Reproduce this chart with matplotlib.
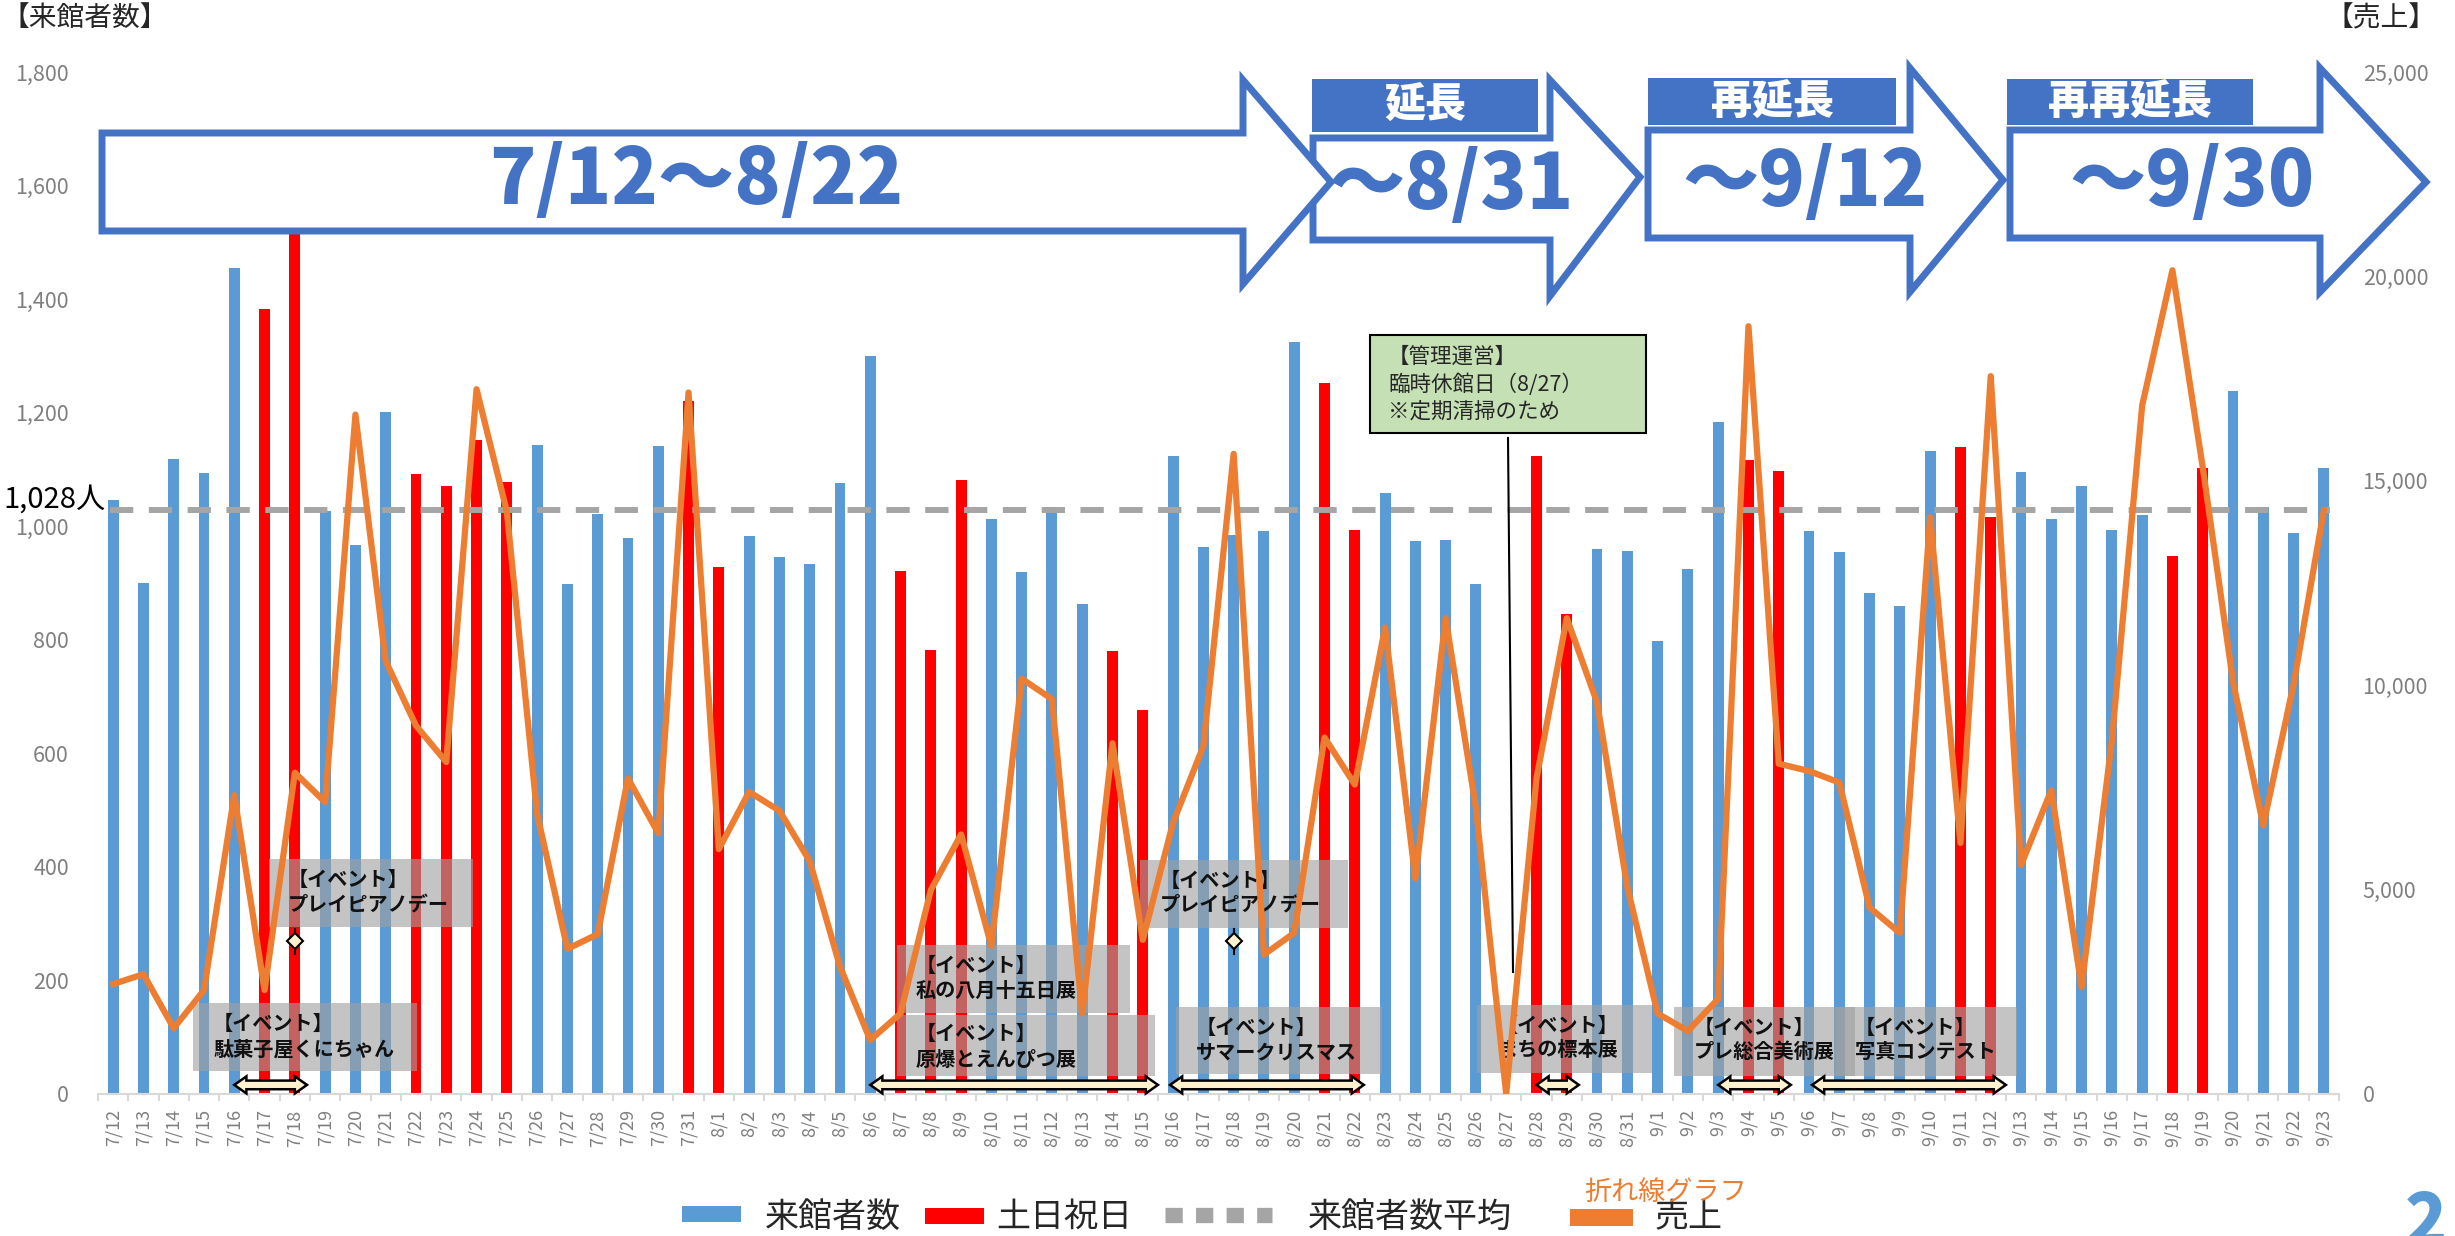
import numpy as np
import matplotlib
matplotlib.use('Agg')
import matplotlib.pyplot as plt
from matplotlib.patches import Polygon, Rectangle
from matplotlib.lines import Line2D

plt.rcParams['font.family'] = ['Noto Sans CJK JP', 'DejaVu Sans']

# ---- data ----
dates = ([f'7/{d}' for d in range(12, 32)] + [f'8/{d}' for d in range(1, 32)]
         + [f'9/{d}' for d in range(1, 24)])

visitors = [1046, 900, 1119, 1094, 1454, 1383, 1560, 1026, 967, 1202,
            1092, 1070, 1152, 1078, 1143, 899, 1022, 980, 1141, 1221,
            928, 982, 946, 933, 1076, 1300, 922, 782, 1081, 1012,
            920, 1033, 863, 780, 677, 1123, 964, 985, 991, 1324,
            1253, 993, 1058, 974, 976, 898, 0, 1123, 845, 960,
            957, 798, 924, 1183, 1116, 1097, 992, 955, 882, 860,
            1132, 1140, 1016, 1096, 1012, 1070, 993, 1020, 948, 1103,
            1239, 1034, 988, 1103]

sales = [2690, 2930, 1610, 2540, 7310, 2540, 7860, 7140, 16620, 10590,
         9010, 8120, 17240, 14250, 6850, 3550, 3910, 7720, 6380, 17160,
         5990, 7390, 6930, 5700, 3120, 1320, 1970, 4990, 6350, 3620,
         10160, 9660, 1970, 8580, 3770, 6640, 8510, 15660, 3410, 3940,
         8720, 7570, 11410, 5270, 11640, 7000, 0, 7720, 11640, 9580,
         5060, 1970, 1540, 2330, 18780, 8080, 7900, 7620, 4560, 3940,
         14110, 6140, 17560, 5600, 7430, 2620, 8650, 16840, 20150, 15330,
         10090, 6570, 10020, 14280]

holidays = ['7/17', '7/18', '7/22', '7/23', '7/24', '7/25', '7/31', '8/1',
            '8/7', '8/8', '8/9', '8/14', '8/15', '8/21', '8/22', '8/28',
            '8/29', '9/4', '9/5', '9/11', '9/12', '9/18', '9/19']

avg_visitors = 1028

# double arrows under the event boxes (start / end in day index)
event_spans = [(4.0, 6.4), (25.0, 34.5), (34.9, 41.3), (47.0, 48.4), (53.0, 55.4), (56.1, 62.5)]
piano_days = ['7/18', '8/18']
piano_level = 269

W, H = 2455, 1236
DPI = 100
BLUE = '#5B9BD5'
RED = '#FF0000'
ORANGE = '#ED7D31'
GRAY = '#A5A5A5'
ABLUE = '#4472C4'
CREAM = '#FFF2CC'
TICKC = '#7F7F7F'


def fx(px):
    return px / W


def fy(py):
    return 1 - py / H


fig = plt.figure(figsize=(W / DPI, H / DPI), dpi=DPI)
ax = fig.add_axes([fx(98), fy(1094), (2339 - 98) / W, (1094 - 72) / H])
ax2 = ax.twinx()

idx = np.arange(len(dates))
vis = np.array(visitors)
hol = np.array([d in holidays for d in dates])

ax.bar(idx[~hol], vis[~hol], width=0.36, color=BLUE, zorder=2)
ax.bar(idx[hol], vis[hol], width=0.36, color=RED, zorder=2)
ax.plot([-0.1, 73.2], [avg_visitors, avg_visitors], color=GRAY, lw=4.3,
        dashes=(3.9, 2.6), zorder=3)

ax2.plot(idx, sales, color=ORANGE, lw=4.5, zorder=3)

ax.set_xlim(-0.5, len(dates) - 0.5)
ax.set_ylim(0, 1800)
ax2.set_ylim(0, 25000)
ax.set_yticks(np.arange(0, 1801, 200))
ax.set_yticklabels([f'{v:,}' for v in range(0, 1801, 200)])
ax2.set_yticks(np.arange(0, 25001, 5000))
ax2.set_yticklabels([f'{v:,}' for v in range(0, 25001, 5000)])
ax.set_xticks(idx)
ax.set_xticklabels(dates)
ax.set_xticks(np.arange(-0.5, len(dates), 1), minor=True)
ax.tick_params(axis='x', which='major', length=0, pad=11, labelsize=13,
               labelcolor=TICKC, rotation=90)
ax.tick_params(axis='x', which='minor', length=5, width=1.5, color='#D9D9D9')
ax.tick_params(axis='y', length=0, pad=21, labelsize=15.5, labelcolor=TICKC)
ax2.tick_params(axis='y', length=0, pad=17, labelsize=15.5, labelcolor=TICKC)
for a in (ax, ax2):
    for s in ('top', 'left', 'right'):
        a.spines[s].set_visible(False)
ax2.spines['bottom'].set_visible(False)
ax.spines['bottom'].set_color('#D9D9D9')
ax.spines['bottom'].set_linewidth(1.5)

# ---- event boxes (figure pixel layout) ----
boxes = [
    ((269, 859, 473, 927), 288, (879, 905), 'プレイピアノデー'),
    ((193, 1003, 417, 1071), 213, (1023, 1049), '駄菓子屋くにちゃん'),
    ((897, 945, 1130, 1013), 916, (965, 990), '私の八月十五日展'),
    ((897, 1015, 1155, 1076), 916, (1033, 1060), '原爆とえんぴつ展'),
    ((1140, 860, 1348, 928), 1160, (880, 905), 'プレイピアノデー'),
    ((1176, 1007, 1382, 1074), 1196, (1027, 1052), 'サマークリスマス'),
    ((1477, 1005, 1652, 1073), 1498, (1025, 1050), 'まちの標本展'),
    ((1674, 1007, 1855, 1076), 1694, (1027, 1051), 'プレ総合美術展'),
    ((1836, 1007, 2017, 1076), 1855, (1027, 1051), '写真コンテスト'),
]
for (x0, y0, x1, y1), tx, (l1, l2), name in boxes:
    ax.add_patch(Rectangle((fx(x0), fy(y1)), (x1 - x0) / W, (y1 - y0) / H,
                           transform=fig.transFigure, facecolor='#A0A0A0',
                           alpha=0.62, edgecolor='none', zorder=4, clip_on=False))
    ax.text(fx(tx), fy(l1), '【イベント】', transform=fig.transFigure, ha='left',
            va='center', fontsize=14.5, fontweight='bold', color='#111111', zorder=5)
    ax.text(fx(tx), fy(l2), name, transform=fig.transFigure, ha='left',
            va='center', fontsize=14.5, fontweight='bold', color='#111111', zorder=5)

# double-headed block arrows for event periods
hl, bh, hh, yc = 0.4, 7.6, 15, 16
for x0, x1 in event_spans:
    pts = [(x0, yc), (x0 + hl, yc + hh), (x0 + hl, yc + bh), (x1 - hl, yc + bh),
           (x1 - hl, yc + hh), (x1, yc), (x1 - hl, yc - hh), (x1 - hl, yc - bh),
           (x0 + hl, yc - bh), (x0 + hl, yc - hh)]
    ax.add_patch(Polygon(pts, closed=True, facecolor=CREAM, edgecolor='black',
                         lw=1.8, zorder=6, clip_on=False))

for d in piano_days:
    i = dates.index(d)
    ax.plot([i, i], [piano_level - 22, piano_level + 22], color='black', lw=1.5, zorder=6)
    ax.plot(i, piano_level, marker='D', ms=8, mfc=CREAM, mec='black', mew=1.5, zorder=7)

# closed-day note
fig.add_artist(Rectangle((fx(1370), fy(433)), (1646 - 1370) / W, (433 - 335) / H,
                         transform=fig.transFigure, facecolor='#C5E0B4',
                         edgecolor='black', lw=1.5, zorder=5))
for yy, s in zip((357, 385, 412), ('【管理運営】', '臨時休館日（8/27）', '※定期清掃のため')):
    fig.text(fx(1388), fy(yy), s, ha='left', va='center', fontsize=15.5,
             color='#262626', zorder=6)
fig.add_artist(Line2D([fx(1508), fx(1513)], [fy(438), fy(972)], color='black',
                      lw=1.5, zorder=5))

# ---- period arrows at the top ----
def block_arrow(pts, z):
    fig.add_artist(Polygon([(fx(x), fy(y)) for x, y in pts], closed=True,
                           transform=fig.transFigure, facecolor='white',
                           edgecolor=ABLUE, lw=5, joinstyle='miter', zorder=z))


def label_box(x0, y0, x1, y1, text, cx, cy, z):
    fig.add_artist(Rectangle((fx(x0), fy(y1)), (x1 - x0) / W, (y1 - y0) / H,
                             transform=fig.transFigure, facecolor=ABLUE,
                             edgecolor='none', zorder=z))
    fig.text(fx(cx), fy(cy), text, ha='center', va='center', fontsize=29.5,
             fontweight='black', color='white', zorder=z + 1)


block_arrow([(1313, 138), (1550, 138), (1550, 80), (1640, 177), (1550, 296),
             (1550, 240), (1313, 240)], 10)
block_arrow([(102, 133), (1243, 133), (1243, 80), (1331, 182), (1243, 284),
             (1243, 231), (102, 231)], 11)
label_box(1312, 79, 1538, 132, '延長', 1425, 105, 12)
block_arrow([(1648, 130), (1910, 130), (1910, 68), (2003, 180), (1910, 292),
             (1910, 238), (1648, 238)], 12)
label_box(1648, 78, 1896, 125, '再延長', 1773, 102, 13)
block_arrow([(2010, 130), (2320, 130), (2320, 68), (2426, 182), (2320, 292),
             (2320, 238), (2010, 238)], 12)
label_box(2007, 79, 2253, 125, '再再延長', 2130, 102, 13)

for s, cx, cy in (('7/12〜8/22', 696, 181), ('〜8/31', 1451, 186),
                  ('〜9/12', 1805, 183), ('〜9/30', 2192, 183)):
    fig.text(fx(cx), fy(cy), s, ha='center', va='center', fontsize=55,
             fontweight='black', color=ABLUE, zorder=20)

# ---- axis titles and labels ----
fig.text(fx(2), fy(18), '【来館者数】', ha='left', va='center', fontsize=20, color='#262626')
fig.text(fx(2325), fy(18), '【売上】', ha='left', va='center', fontsize=20, color='#262626')
fig.text(fx(3), fy(500), '1,028人', ha='left', va='center', fontsize=21, color='black', zorder=8)

# ---- legend ----
ly = 1217
fig.add_artist(Rectangle((fx(682), fy(1222)), 59 / W, 16 / H, transform=fig.transFigure,
                         facecolor=BLUE, edgecolor='none'))
fig.text(fx(765), fy(ly), '来館者数', ha='left', va='center', fontsize=24.5, color='#262626')
fig.add_artist(Rectangle((fx(925), fy(1224)), 59 / W, 16 / H, transform=fig.transFigure,
                         facecolor=RED, edgecolor='none'))
fig.text(fx(996), fy(ly), '土日祝日', ha='left', va='center', fontsize=24.5, color='#262626')
fig.add_artist(Line2D([fx(1165), fx(1272)], [fy(1215), fy(1215)], color=GRAY, lw=11,
                      dashes=(1.13, 0.87), dash_capstyle='butt'))
fig.text(fx(1308), fy(ly), '来館者数平均', ha='left', va='center', fontsize=24.5, color='#262626')
fig.add_artist(Rectangle((fx(1570), fy(1226)), 63 / W, 17 / H, transform=fig.transFigure,
                         facecolor=ORANGE, edgecolor='none'))
fig.text(fx(1655), fy(ly), '売上', ha='left', va='center', fontsize=24.5, color='#262626')
fig.text(fx(1584), fy(1192), '折れ線グラフ', ha='left', va='center', fontsize=19.5, color=ORANGE)
fig.text(fx(2405), fy(1244), '2', ha='left', va='baseline', fontsize=50,
         fontweight='black', color=BLUE)

fig.savefig('out.png', dpi=DPI)
